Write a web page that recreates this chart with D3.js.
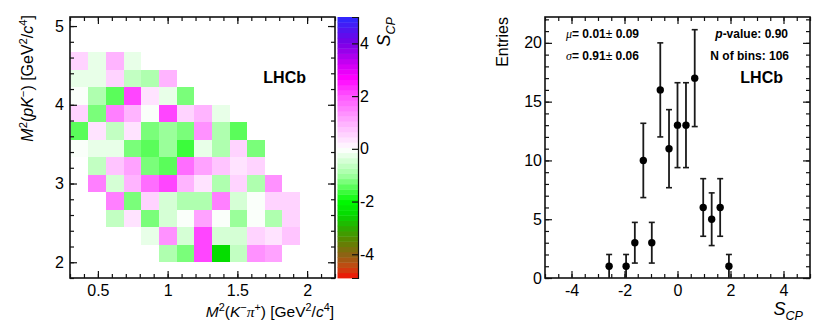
<!DOCTYPE html>
<html>
<head>
<meta charset="utf-8">
<script src="https://cdn.jsdelivr.net/npm/d3@7"></script>
<style>
  body { margin: 0; background: #fff; }
  svg { display: block; font-family: "Liberation Sans", Arial, Helvetica, sans-serif; }
</style>
</head>
<body>
<div id="chart"></div>
<script>
// ======================================================
// S_CP map over the Dalitz plane + S_CP distribution
// ======================================================

// --- Data: binning of the Dalitz plane ---
const xEdges = [0.305, 0.432, 0.558, 0.685, 0.811, 0.938, 1.064, 1.191, 1.317, 1.444, 1.570, 1.697, 1.823, 1.950];
const yEdges = [2.0, 2.222, 2.444, 2.667, 2.889, 3.111, 3.333, 3.556, 3.778, 4.0, 4.222, 4.444, 4.667];

// S_CP per bin, row 0 = lowest M2(pK-) row, null = empty bin
const sCpMap = [
    [null, null, null, null, null, -0.84, -1.31, 2.06, -2.4, -0.58, 1.28, 1.06, null],
    [null, null, null, null, -0.21, 1.39, -0.37, 2.06, -0.37, -0.37, 0.5, 0.25, 0.81],
    [null, null, -0.58, 0.25, -1.19, -0.37, 0.0, 1.11, 0.0, -1.0, 0.0, -0.84, 0.5],
    [null, null, 1.56, -1.19, 0.5, -0.37, -0.84, -0.84, 1.5, -0.37, 0.0, 0.5, 0.5],
    [null, 1.5, -0.42, 0.94, 1.83, 2.06, 0.88, 0.25, -0.84, 0.5, -0.84, 1.28, null],
    [null, -0.58, 0.81, 1.06, -1.25, -1.44, 1.83, 1.06, 0.81, 0.25, 0.5, null, null],
    [0.0, -0.21, -0.21, -1.19, -1.5, -0.95, -1.63, -0.21, -0.89, 0.56, -1.19, null, null],
    [-1.47, 0.31, -0.58, 0.25, -1.19, -0.95, -1.31, 1.28, -0.89, -1.5, null, null, null],
    [0.56, -1.19, 1.61, 0.94, 0.0, 2.06, 0.5, 0.94, -0.21, null, null, null, null],
    [0.0, -0.89, -1.44, 2.06, 0.31, -0.21, -1.25, null, null, null, null, null, null],
    [-0.21, -0.21, 0.56, -0.58, -0.84, 0.94, null, null, null, null, null, null, null],
    [0.5, -0.21, 0.88, -0.21, null, null, null, null, null, null, null, null, null]
];

// --- Data: S_CP distribution ---
const sCpCenters = [-2.58, -1.94, -1.61, -1.29, -0.97, -0.65, -0.32, 0.0, 0.32, 0.65, 0.97, 1.29, 1.61, 1.94];
const entries = [1, 1, 3, 10, 3, 16, 11, 13, 13, 17, 6, 5, 6, 1];
const entryErrors = [1, 1, 1.73, 3.16, 1.73, 4, 3.32, 3.61, 3.61, 4.12, 2.45, 2.24, 2.45, 1];

const fitLines = ["= 0.01", " 0.09", "= 0.91", " 0.06"];
const infoLines = ["-value: 0.90", "N of bins: 106"];

// --- Palette (ROOT-like, 50 contours) ---
const paletteStops = [
    [-5, "#ff0000"], [-4.5, "#c84812"], [-4, "#8c6414"], [-3.5, "#5c8400"], [-3, "#2cac00"],
    [-2.5, "#06d800"], [-2, "#00fa00"], [-1, "#a0ffa0"], [0, "#ffffff"], [1, "#ffafff"],
    [2, "#ff55ff"], [2.7, "#ff00ff"], [3.3, "#c400f2"], [4, "#7a00e6"], [4.5, "#5214f0"], [5, "#2a2aff"]
];
const zMin = -4.9, zMax = 5.0, nContours = 50;
const paletteScale = d3.scaleLinear()
    .domain(paletteStops.map(d => d[0]))
    .range(paletteStops.map(d => d[1]))
    .interpolate(d3.interpolateRgb)
    .clamp(true);
const bandWidth = (zMax - zMin) / nContours;
function bandColor(v) {
    const k = Math.max(0, Math.min(nContours - 1, Math.floor((v - zMin) / bandWidth)));
    return paletteScale(zMin + (k + 0.5) * bandWidth);
}

// --- Layout ---
const W = 831, H = 331;
const left = { x0: 70, x1: 335, y0: 17, y1: 278 };
const right = { x0: 545, x1: 810, y0: 17, y1: 278 };
const bar = { x0: 337.5, x1: 358 };
const fs = 16;

const svg = d3.select("#chart").append("svg")
    .attr("width", W).attr("height", H);

// rich text: parts = [text, flags] ; i italic, g greek/serif, ^ sup, _ sub, b bold, n normal weight
function richText(el, parts, size) {
    let shift = 0;
    parts.forEach(([txt, st = ""]) => {
        const target = st.includes("^") ? -0.4 * size : st.includes("_") ? 0.28 * size : 0;
        const ts = el.append("tspan").text(txt).attr("dy", target - shift);
        shift = target;
        if (st.includes("^") || st.includes("_")) ts.attr("font-size", size * 0.7);
        if (st.includes("i")) ts.attr("font-style", "italic");
        if (st.includes("g")) ts.attr("font-family", '"Liberation Serif", "Times New Roman", serif');
        if (st.includes("b")) ts.attr("font-weight", "bold");
        if (st.includes("n")) ts.attr("font-weight", "normal");
    });
    return el;
}

// ROOT-style frame with inward ticks on all sides
function drawFrame(g, box, x, y, opt) {
    g.append("g").attr("transform", `translate(0,${box.y1})`)
        .call(d3.axisBottom(x).tickValues(opt.xMajor).tickSize(-7).tickPadding(7).tickFormat(opt.xFmt));
    g.append("g").attr("transform", `translate(0,${box.y1})`)
        .call(d3.axisBottom(x).tickValues(opt.xMinor).tickSize(-4).tickFormat(""));
    g.append("g").attr("transform", `translate(0,${box.y0})`)
        .call(d3.axisTop(x).tickValues(opt.xMajor).tickSize(-7).tickFormat(""));
    g.append("g").attr("transform", `translate(0,${box.y0})`)
        .call(d3.axisTop(x).tickValues(opt.xMinor).tickSize(-4).tickFormat(""));

    g.append("g").attr("transform", `translate(${box.x0},0)`)
        .call(d3.axisLeft(y).tickValues(opt.yMajor).tickSize(-7).tickPadding(opt.yPad).tickFormat(opt.yFmt));
    g.append("g").attr("transform", `translate(${box.x0},0)`)
        .call(d3.axisLeft(y).tickValues(opt.yMinor).tickSize(-4).tickFormat(""));
    g.append("g").attr("transform", `translate(${box.x1},0)`)
        .call(d3.axisRight(y).tickValues(opt.yMajor).tickSize(-7).tickFormat(""));
    g.append("g").attr("transform", `translate(${box.x1},0)`)
        .call(d3.axisRight(y).tickValues(opt.yMinor).tickSize(-4).tickFormat(""));

    g.selectAll(".domain").remove();
    g.selectAll(".tick line").attr("stroke", "#111").attr("stroke-width", 1.2);
    g.selectAll(".tick text").attr("font-size", fs).attr("fill", "#000")
        .attr("font-family", '"Liberation Sans", Arial, sans-serif');

    g.append("rect")
        .attr("x", box.x0).attr("y", box.y0)
        .attr("width", box.x1 - box.x0).attr("height", box.y1 - box.y0)
        .attr("fill", "none").attr("stroke", "#111").attr("stroke-width", 1.6);
}

// ======================================================
// Left: S_CP map
// ======================================================
const xL = d3.scaleLinear().domain([0.3, 2.2]).range([left.x0, left.x1]);
const yL = d3.scaleLinear().domain([1.8, 5.115]).range([left.y1, left.y0]);

const cells = [];
sCpMap.forEach((row, j) => row.forEach((v, i) => {
    if (v !== null) cells.push({ i, j, v });
}));

const gMap = svg.append("g");
gMap.selectAll("rect.cell")
    .data(cells)
    .enter().append("rect")
    .attr("class", "cell")
    .attr("x", d => xL(xEdges[d.i]))
    .attr("y", d => yL(yEdges[d.j + 1]))
    .attr("width", d => xL(xEdges[d.i + 1]) - xL(xEdges[d.i]))
    .attr("height", d => yL(yEdges[d.j]) - yL(yEdges[d.j + 1]))
    .attr("fill", d => bandColor(d.v))
    .attr("shape-rendering", "crispEdges");

drawFrame(svg.append("g"), left, xL, yL, {
    xMajor: [0.5, 1, 1.5, 2], xMinor: d3.range(0.3, 2.21, 0.1), xFmt: d => String(d),
    yMajor: [2, 3, 4, 5], yMinor: d3.range(1.8, 5.11, 0.2), yFmt: d => String(d), yPad: 6
});

richText(svg.append("text").attr("x", left.x1 - 1).attr("y", 317)
    .attr("text-anchor", "end").attr("font-size", 15.5),
    [["M", "i"], ["2", "^"], ["(", ""], ["K", "i"], ["\u2212", "^"], ["\u03c0", "ig"], ["+", "^"],
     [") [GeV", ""], ["2", "^"], ["/", ""], ["c", "i"], ["4", "^"], ["]", ""]], 15.5);

richText(svg.append("text").attr("transform", `translate(33,${left.y0 - 2}) rotate(-90)`)
    .attr("text-anchor", "end").attr("font-size", fs),
    [["M", "i"], ["2", "^"], ["(", ""], ["pK", "i"], ["\u2212", "^"], [") [GeV", ""],
     ["2", "^"], ["/", ""], ["c", "i"], ["4", "^"], ["]", ""]], fs);

svg.append("text").attr("x", 306).attr("y", 83).attr("text-anchor", "end")
    .attr("font-size", 16).attr("font-weight", "bold").text("LHCb");

// --- Colour bar ---
const zScale = d3.scaleLinear().domain([zMin, zMax]).range([left.y1, left.y0]);
const bands = d3.range(nContours).map(k => zMin + k * bandWidth);
svg.append("g").selectAll("rect")
    .data(bands)
    .enter().append("rect")
    .attr("x", bar.x0)
    .attr("width", bar.x1 - bar.x0)
    .attr("y", d => zScale(d + bandWidth))
    .attr("height", d => zScale(d) - zScale(d + bandWidth) + 0.4)
    .attr("fill", d => bandColor(d + bandWidth / 2));

const gBar = svg.append("g").attr("transform", `translate(${bar.x1},0)`)
    .call(d3.axisRight(zScale).tickValues([-4, -2, 0, 2, 4]).tickSize(-6).tickPadding(2)
        .tickFormat(d => String(d)));
gBar.select(".domain").attr("stroke", "#111").attr("stroke-width", 1.2);
gBar.selectAll(".tick line").attr("stroke", "#111").attr("stroke-width", 1.2);
gBar.selectAll(".tick text").attr("font-size", fs).attr("fill", "#000");

richText(svg.append("text").attr("transform", `translate(390,${left.y0}) rotate(-90)`)
    .attr("text-anchor", "end").attr("font-size", 18),
    [["S", "i"], ["CP", "i_"]], 18);

// ======================================================
// Right: S_CP distribution
// ======================================================
const xR = d3.scaleLinear().domain([-5, 5]).range([right.x0, right.x1]);
const yR = d3.scaleLinear().domain([0, 22.2]).range([right.y1, right.y0]);

drawFrame(svg.append("g"), right, xR, yR, {
    xMajor: [-4, -2, 0, 2, 4], xMinor: d3.range(-5, 5.01, 0.5), xFmt: d => String(d),
    yMajor: [0, 5, 10, 15, 20], yMinor: d3.range(0, 22.1, 1), yFmt: d => String(d), yPad: 3
});

const points = sCpCenters.map((c, k) => ({ x: c, n: entries[k], e: entryErrors[k] }));
const gPts = svg.append("g");
const pt = gPts.selectAll("g").data(points).enter().append("g");
pt.append("line")
    .attr("x1", d => xR(d.x)).attr("x2", d => xR(d.x))
    .attr("y1", d => yR(Math.max(0, d.n - d.e))).attr("y2", d => yR(d.n + d.e))
    .attr("stroke", "#1a1a1a").attr("stroke-width", 1.8);
pt.append("line")
    .attr("x1", d => xR(d.x) - 3).attr("x2", d => xR(d.x) + 3)
    .attr("y1", d => yR(d.n + d.e)).attr("y2", d => yR(d.n + d.e))
    .attr("stroke", "#1a1a1a").attr("stroke-width", 1.6);
pt.filter(d => d.n - d.e > 0.01).append("line")
    .attr("x1", d => xR(d.x) - 3).attr("x2", d => xR(d.x) + 3)
    .attr("y1", d => yR(d.n - d.e)).attr("y2", d => yR(d.n - d.e))
    .attr("stroke", "#1a1a1a").attr("stroke-width", 1.6);
pt.append("circle")
    .attr("cx", d => xR(d.x)).attr("cy", d => yR(d.n))
    .attr("r", 3.7).attr("fill", "#000");

// axis titles
richText(svg.append("text").attr("x", 803).attr("y", 315)
    .attr("text-anchor", "end").attr("font-size", 18),
    [["S", "i"], ["CP", "i_"]], 18);
svg.append("text").attr("transform", `translate(508,${right.y0}) rotate(-90)`)
    .attr("text-anchor", "end").attr("font-size", fs).text("Entries");

// fit info
const small = 12;
richText(svg.append("text").attr("x", 566).attr("y", 38).attr("font-size", small).attr("font-weight", "bold"),
    [["\u03bc", "ign"], [fitLines[0], ""], ["\u00b1", "n"], [fitLines[1], ""]], small);
richText(svg.append("text").attr("x", 566).attr("y", 60).attr("font-size", small).attr("font-weight", "bold"),
    [["\u03c3", "ign"], [fitLines[2], ""], ["\u00b1", "n"], [fitLines[3], ""]], small);
richText(svg.append("text").attr("x", 788).attr("y", 38).attr("text-anchor", "end")
    .attr("font-size", small).attr("font-weight", "bold"),
    [["p", "i"], [infoLines[0], ""]], small);
svg.append("text").attr("x", 789).attr("y", 60).attr("text-anchor", "end")
    .attr("font-size", small).attr("font-weight", "bold").text(infoLines[1]);
svg.append("text").attr("x", 783).attr("y", 83).attr("text-anchor", "end")
    .attr("font-size", 16).attr("font-weight", "bold").text("LHCb");
</script>
</body>
</html>
